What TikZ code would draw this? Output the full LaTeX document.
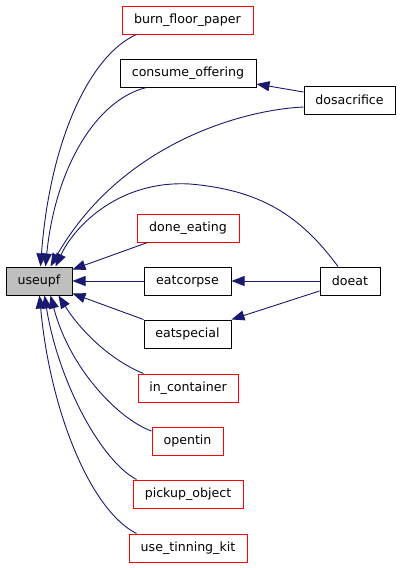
\documentclass[tikz,border=0pt]{standalone}
\usepackage{fontspec}
\setmainfont{DejaVu Sans}
\usetikzlibrary{arrows.meta,calc}
\definecolor{edgeblue}{HTML}{191970}
\definecolor{boxred}{HTML}{FF0000}
\definecolor{boxgray}{HTML}{BFBFBF}
\tikzset{
  fn/.style={draw, line width=1pt, inner sep=0pt, minimum height=28pt, fill=white,
    font=\fontsize{12.6}{15}\selectfont},
  redfn/.style={fn, draw=boxred},
  blackfn/.style={fn, draw=black},
  rootfn/.style={fn, draw=black, fill=boxgray},
  edge/.style={draw=edgeblue, line width=0.9pt, -{Triangle[length=13pt,width=10pt]}, fill=none},
}
\begin{document}
\begin{tikzpicture}[x=1pt,y=-1pt]
\useasboundingbox (0,0) rectangle (400,568);
% nodes
\node[rootfn, minimum width=66pt] (useupf) at (39,281) {useupf};
\node[redfn, minimum width=131pt] (burn) at (187.5,20) {burn\_floor\_paper};
\node[blackfn, minimum width=136pt] (consume) at (188,73) {consume\_offering};
\node[blackfn, minimum width=91pt] (dosac) at (349.5,100) {dosacrifice};
\node[redfn, minimum width=102pt] (doneeating) at (188,228) {done\_eating};
\node[blackfn, minimum width=87pt] (eatcorpse) at (187.5,281) {eatcorpse};
\node[blackfn, minimum width=60pt] (doeat) at (350,281) {doeat};
\node[blackfn, minimum width=87pt] (eatspecial) at (187.5,334) {eatspecial};
\node[redfn, minimum width=100pt] (incont) at (188,388) {in\_container};
\node[redfn, minimum width=71pt] (opentin) at (187.5,441) {opentin};
\node[redfn, minimum width=110pt] (pickup) at (188,494) {pickup\_object};
\node[redfn, minimum width=118pt] (tinning) at (188,548) {use\_tinning\_kit};
% edges into useupf from above
\draw[edge] ($(burn.south west)+(15,0)$) .. controls (90,55) and (50,140) .. ($(useupf.north west)+(35,0)$);
\draw[edge] ($(consume.south west)+(27,0)$) .. controls (95,100) and (55,170) .. ($(useupf.north west)+(40,0)$);
\draw[edge] ($(dosac.west)+(0,7)$) .. controls (240,110) and (120,145) .. ($(useupf.north west)+(45,0)$);
\draw[edge] ($(doeat.north)+(-12,0)$) .. controls (300,215) and (260,190) .. (190,184)
   .. controls (120,180) and (75,225) .. ($(useupf.north west)+(50,0)$);
% edges from the right
\draw[edge] ($(doneeating.south west)+(11,0)$) -- ($(useupf.north east)+(0,3)$);
\draw[edge] (eatcorpse.west) -- (useupf.east);
\draw[edge] (eatspecial.north west) -- ($(useupf.south east)+(0,-2)$);
% edges from below
\draw[edge] ($(incont.north west)+(6,0)$) .. controls (110,360) and (80,330) .. ($(useupf.south west)+(53,0)$);
\draw[edge] ($(opentin.west)+(0,-10)$) .. controls (120,420) and (70,370) .. ($(useupf.south west)+(45,0)$);
\draw[edge] ($(pickup.north west)+(4,0)$) .. controls (100,460) and (58,380) .. ($(useupf.south west)+(39,0)$);
\draw[edge] ($(tinning.north west)+(8,0)$) .. controls (90,510) and (50,410) .. ($(useupf.south west)+(34,0)$);
% other edges
\draw[edge] ($(dosac.west)+(0,-8)$) -- ($(consume.east)+(0,11)$);
\draw[edge] (doeat.west) -- (eatcorpse.east);
\draw[edge] ($(doeat.west)+(0,10)$) -- (eatspecial.north east);
\end{tikzpicture}
\end{document}
